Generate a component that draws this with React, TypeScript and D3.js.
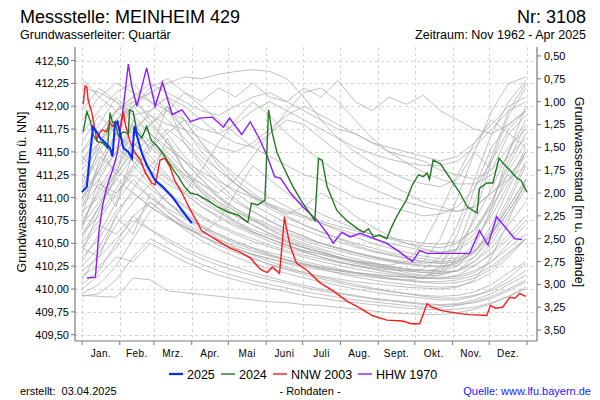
import React from 'react';
import * as d3 from 'd3';

const MONTHS = ['Jan.', 'Feb.', 'Mrz.', 'Apr.', 'Mai', 'Juni', 'Juli', 'Aug.', 'Sept.', 'Okt.', 'Nov.', 'Dez.'];
const MONTH_STARTS = [0, 31, 59, 90, 120, 151, 181, 212, 243, 273, 304, 334, 365];
const LEFT_TICKS = [409.5, 409.75, 410, 410.25, 410.5, 410.75, 411, 411.25, 411.5, 411.75, 412, 412.25, 412.5];
const RIGHT_TICKS = [0.5, 0.75, 1, 1.25, 1.5, 1.75, 2, 2.25, 2.5, 2.75, 3, 3.25, 3.5];
const GROUND = 413.05;

const GRAY_DAYS = [0, 14, 28, 42, 56, 70, 84, 98, 112, 126, 140, 154, 168, 182, 196, 210, 224, 238, 252, 266, 280, 294, 308, 322, 336, 350, 364];

const GRAY_SERIES: number[][] = [
  [412.30, 412.10, 411.95, 412.05, 412.15, 412.25, 412.32, 412.30, 412.35, 412.38, 412.40, 412.38, 412.30, 412.10, 411.85, 411.65, 411.50, 411.38, 411.28, 411.20, 411.15, 411.12, 411.20, 411.50, 411.95, 412.25, 412.32],
  [411.50, 411.70, 411.95, 412.10, 412.25, 412.15, 412.05, 411.95, 411.90, 412.00, 412.10, 412.15, 412.05, 411.95, 411.85, 411.75, 411.70, 411.60, 411.55, 411.50, 411.45, 411.40, 411.45, 411.60, 411.80, 412.00, 412.10],
  [412.20, 412.15, 412.05, 411.90, 411.95, 412.10, 412.00, 411.85, 411.70, 411.60, 411.55, 411.70, 411.85, 411.80, 411.65, 411.50, 411.35, 411.25, 411.15, 411.05, 410.95, 410.90, 410.85, 410.90, 411.05, 411.20, 411.35],
  [411.30, 411.55, 411.85, 412.05, 411.90, 411.80, 411.75, 411.65, 411.55, 411.50, 411.60, 411.75, 411.90, 412.00, 411.90, 411.80, 411.70, 411.60, 411.50, 411.45, 411.40, 411.30, 411.25, 411.20, 411.30, 411.55, 411.75],
  [410.90, 411.30, 411.70, 412.00, 412.20, 412.30, 412.15, 412.00, 411.85, 411.70, 411.55, 411.45, 411.35, 411.25, 411.20, 411.10, 411.00, 410.95, 410.90, 410.85, 410.80, 410.82, 410.90, 411.10, 411.40, 411.75, 411.95],
  [411.20, 411.60, 411.95, 412.10, 411.85, 411.60, 411.40, 411.20, 411.00, 410.85, 410.75, 410.65, 410.55, 410.48, 410.42, 410.35, 410.30, 410.25, 410.22, 410.18, 410.15, 410.15, 410.20, 410.35, 410.60, 410.90, 411.20],
  [410.80, 411.40, 411.70, 411.55, 411.80, 411.60, 411.30, 411.10, 410.95, 410.80, 410.70, 410.60, 410.52, 410.45, 410.40, 410.35, 410.30, 410.28, 410.25, 410.22, 410.20, 410.22, 410.30, 410.50, 410.85, 411.30, 411.60],
  [411.50, 411.80, 412.10, 411.90, 411.70, 411.50, 411.30, 411.15, 411.00, 410.88, 410.78, 410.70, 410.62, 410.55, 410.50, 410.45, 410.40, 410.35, 410.32, 410.30, 410.28, 410.30, 410.45, 410.75, 411.10, 411.50, 411.85],
  [410.60, 410.90, 411.30, 411.60, 411.45, 411.25, 411.05, 410.90, 410.80, 410.70, 410.62, 410.55, 410.48, 410.42, 410.38, 410.33, 410.28, 410.25, 410.22, 410.20, 410.18, 410.17, 410.20, 410.30, 410.45, 410.70, 410.95],
  [411.00, 411.20, 411.50, 411.75, 411.90, 411.70, 411.45, 411.25, 411.10, 410.95, 410.85, 410.75, 410.65, 410.58, 410.50, 410.45, 410.40, 410.36, 410.32, 410.28, 410.26, 410.25, 410.28, 410.40, 410.65, 411.00, 411.40],
  [410.40, 410.85, 411.25, 411.50, 411.35, 411.20, 411.05, 410.90, 410.78, 410.68, 410.60, 410.52, 410.45, 410.40, 410.35, 410.30, 410.25, 410.22, 410.18, 410.15, 410.12, 410.12, 410.15, 410.25, 410.40, 410.60, 410.80],
  [411.60, 411.90, 411.70, 411.50, 411.65, 411.45, 411.20, 411.00, 410.85, 410.72, 410.62, 410.55, 410.48, 410.42, 410.38, 410.34, 410.30, 410.27, 410.24, 410.22, 410.20, 410.20, 410.25, 410.45, 410.90, 411.50, 412.00],
  [410.95, 411.35, 411.65, 411.45, 411.25, 411.05, 410.90, 410.78, 410.68, 410.60, 410.52, 410.46, 410.40, 410.35, 410.30, 410.26, 410.22, 410.19, 410.16, 410.14, 410.12, 410.11, 410.12, 410.18, 410.30, 410.50, 410.70],
  [411.25, 411.10, 411.40, 411.70, 411.95, 412.10, 411.85, 411.60, 411.40, 411.20, 411.05, 410.92, 410.80, 410.70, 410.62, 410.55, 410.48, 410.42, 410.38, 410.34, 410.30, 410.28, 410.30, 410.40, 410.60, 410.95, 411.35],
  [410.70, 411.10, 411.00, 411.35, 411.60, 411.45, 411.25, 411.08, 410.95, 410.85, 410.76, 410.68, 410.60, 410.53, 410.47, 410.42, 410.37, 410.33, 410.30, 410.27, 410.25, 410.24, 410.26, 410.35, 410.55, 410.85, 411.15],
  [411.40, 411.70, 411.95, 411.75, 411.55, 411.70, 411.85, 411.60, 411.35, 411.15, 411.00, 410.88, 410.78, 410.70, 410.63, 410.56, 410.50, 410.45, 410.40, 410.36, 410.33, 410.30, 410.32, 410.42, 410.62, 410.90, 411.20],
  [410.50, 410.75, 411.05, 411.30, 411.55, 411.75, 411.60, 411.40, 411.20, 411.05, 410.92, 410.82, 410.72, 410.65, 410.58, 410.52, 410.46, 410.41, 410.37, 410.33, 410.30, 410.28, 410.30, 410.40, 410.70, 411.10, 411.50],
  [411.10, 411.45, 411.30, 411.15, 411.00, 410.88, 410.78, 410.68, 410.60, 410.52, 410.45, 410.40, 410.35, 410.30, 410.26, 410.22, 410.18, 410.15, 410.12, 410.10, 410.08, 410.08, 410.10, 410.15, 410.25, 410.40, 410.55],
  [410.85, 411.00, 411.25, 411.55, 411.80, 412.00, 411.75, 411.50, 411.30, 411.15, 411.02, 410.90, 410.82, 410.90, 411.05, 410.95, 410.80, 410.68, 410.58, 410.50, 410.44, 410.40, 410.42, 410.55, 410.80, 411.15, 411.55],
  [411.70, 411.95, 412.15, 412.25, 412.05, 411.85, 411.65, 411.45, 411.30, 411.15, 411.02, 410.92, 410.84, 410.78, 410.72, 410.66, 410.60, 410.55, 410.50, 410.46, 410.42, 410.40, 410.44, 410.60, 410.95, 411.40, 411.80],
  [410.30, 410.60, 410.95, 411.20, 411.00, 410.85, 410.72, 410.62, 410.54, 410.47, 410.41, 410.36, 410.31, 410.27, 410.23, 410.20, 410.17, 410.14, 410.11, 410.09, 410.07, 410.06, 410.07, 410.12, 410.22, 410.38, 410.55],
  [410.20, 410.35, 410.55, 410.75, 410.65, 410.55, 410.45, 410.37, 410.30, 410.24, 410.18, 410.13, 410.08, 410.04, 410.00, 409.96, 409.93, 409.90, 409.88, 409.86, 409.84, 409.83, 409.84, 409.88, 409.95, 410.05, 410.15],
  [409.92, 409.95, 410.10, 410.35, 410.55, 410.45, 410.35, 410.27, 410.20, 410.14, 410.09, 410.05, 410.01, 409.97, 409.94, 409.91, 409.88, 409.86, 409.84, 409.82, 409.80, 409.80, 409.82, 409.86, 409.92, 410.00, 410.10],
  [410.10, 410.40, 410.70, 410.95, 411.15, 410.95, 410.78, 410.64, 410.52, 410.42, 410.34, 410.27, 410.21, 410.16, 410.11, 410.07, 410.03, 410.00, 409.97, 409.95, 409.93, 409.92, 409.93, 409.97, 410.05, 410.18, 410.30],
  [409.95, 410.05, 410.25, 410.55, 410.85, 411.05, 410.85, 410.68, 410.55, 410.45, 410.37, 410.30, 410.24, 410.18, 410.13, 410.09, 410.05, 410.01, 409.98, 409.95, 409.92, 409.90, 409.90, 409.93, 409.98, 410.08, 410.20],
  [410.45, 410.70, 410.60, 410.80, 410.95, 410.80, 410.65, 410.53, 410.43, 410.35, 410.28, 410.22, 410.17, 410.12, 410.08, 410.04, 410.00, 409.97, 409.94, 409.92, 409.90, 409.88, 409.88, 409.92, 410.00, 410.12, 410.28],
  [410.05, 410.20, 410.50, 410.80, 410.65, 410.52, 410.42, 410.33, 410.26, 410.20, 410.15, 410.10, 410.06, 410.02, 409.98, 409.95, 409.92, 409.89, 409.87, 409.85, 409.83, 409.82, 409.83, 409.85, 409.90, 409.98, 410.08],
  [410.60, 410.80, 411.10, 411.35, 411.15, 410.95, 410.80, 410.68, 410.58, 410.50, 410.43, 410.37, 410.32, 410.28, 410.24, 410.21, 410.18, 410.16, 410.14, 410.13, 410.12, 410.15, 410.35, 410.80, 411.40, 411.90, 412.20],
  [410.35, 410.55, 410.85, 411.05, 410.90, 410.78, 410.67, 410.58, 410.50, 410.44, 410.38, 410.33, 410.28, 410.24, 410.21, 410.18, 410.15, 410.13, 410.11, 410.10, 410.12, 410.25, 410.60, 411.10, 411.55, 411.80, 411.95],
  [411.00, 411.30, 411.55, 411.40, 411.20, 411.05, 410.92, 410.80, 410.70, 410.62, 410.55, 410.48, 410.42, 410.37, 410.33, 410.29, 410.26, 410.23, 410.21, 410.20, 410.22, 410.35, 410.70, 411.20, 411.70, 412.05, 412.28],
  [410.75, 411.05, 411.35, 411.60, 411.40, 411.22, 411.08, 410.95, 410.84, 410.74, 410.65, 410.58, 410.51, 410.45, 410.40, 410.35, 410.31, 410.28, 410.26, 410.30, 410.50, 410.85, 411.25, 411.60, 411.85, 411.70, 411.55],
  [410.70, 410.95, 411.20, 411.45, 411.30, 411.15, 411.05, 411.30, 411.60, 411.85, 412.05, 411.90, 411.70, 411.55, 411.40, 411.28, 411.18, 411.10, 411.02, 410.95, 410.90, 410.86, 410.85, 410.90, 411.05, 411.25, 411.45],
  [411.35, 411.60, 411.85, 411.70, 411.55, 411.40, 411.25, 411.15, 411.05, 411.20, 411.45, 411.70, 411.95, 412.15, 412.20, 412.05, 411.85, 411.65, 411.50, 411.38, 411.28, 411.20, 411.15, 411.15, 411.25, 411.45, 411.65],
  [410.55, 410.90, 411.20, 411.05, 410.90, 410.78, 410.68, 410.60, 410.75, 411.05, 411.35, 411.20, 411.05, 410.92, 410.82, 410.74, 410.66, 410.60, 410.55, 410.50, 410.47, 410.45, 410.50, 410.65, 410.90, 411.20, 411.50],
  [411.85, 412.10, 412.25, 412.15, 412.05, 411.95, 411.85, 411.75, 411.70, 411.80, 411.95, 412.05, 411.95, 411.85, 411.75, 411.65, 411.55, 411.48, 411.42, 411.38, 411.35, 411.35, 411.40, 411.55, 411.75, 411.95, 412.05],
  [410.15, 410.25, 410.45, 410.70, 410.95, 410.80, 410.68, 410.58, 410.50, 410.44, 410.38, 410.33, 410.29, 410.26, 410.23, 410.20, 410.18, 410.16, 410.14, 410.13, 410.12, 410.12, 410.14, 410.20, 410.30, 410.45, 410.60],
  [410.90, 411.15, 411.05, 411.25, 411.10, 410.95, 410.82, 410.70, 410.60, 410.52, 410.45, 410.38, 410.32, 410.27, 410.22, 410.17, 410.13, 410.10, 410.07, 410.05, 410.03, 410.02, 410.03, 410.08, 410.18, 410.35, 410.55],
  [411.45, 411.25, 411.50, 411.80, 411.60, 411.40, 411.22, 411.06, 410.92, 410.80, 410.70, 410.61, 410.53, 410.46, 410.40, 410.35, 410.30, 410.26, 410.23, 410.20, 410.18, 410.17, 410.20, 410.30, 410.50, 410.80, 411.10],
  [410.25, 410.45, 410.80, 411.10, 411.35, 411.55, 411.40, 411.20, 411.02, 410.88, 410.76, 410.66, 410.57, 410.50, 410.44, 410.38, 410.33, 410.29, 410.25, 410.22, 410.20, 410.19, 410.20, 410.26, 410.38, 410.55, 410.75],
  [411.95, 412.20, 412.05, 411.85, 411.70, 411.55, 411.40, 411.28, 411.18, 411.08, 411.00, 410.93, 410.86, 410.80, 410.74, 410.69, 410.64, 410.60, 410.56, 410.53, 410.50, 410.49, 410.52, 410.65, 410.95, 411.35, 411.70],
  [410.00, 410.15, 410.35, 410.30, 410.50, 410.40, 410.30, 410.22, 410.15, 410.10, 410.05, 410.01, 409.97, 409.93, 409.90, 409.87, 409.85, 409.83, 409.81, 409.79, 409.78, 409.77, 409.78, 409.80, 409.85, 409.92, 410.00],
  [411.15, 411.50, 411.80, 412.00, 412.15, 411.95, 411.75, 411.55, 411.40, 411.25, 411.12, 411.00, 410.90, 410.80, 410.72, 410.64, 410.57, 410.50, 410.45, 410.40, 410.36, 410.33, 410.34, 410.42, 410.60, 410.85, 411.15],
  [411.40, 411.60, 411.85, 412.00, 411.80, 411.95, 412.15, 412.05, 412.20, 412.10, 412.25, 412.10, 412.05, 412.20, 412.10, 412.28, 412.05, 411.95, 412.10, 412.02, 412.12, 411.95, 411.85, 411.75, 411.70, 411.80, 411.95],
  [409.93, 409.92, 409.91, 410.12, 410.10, 409.98, 409.96, 409.94, 409.92, 409.90, 409.88, 409.86, 409.85, 409.83, 409.82, 409.80, 409.78, 409.76, 409.74, 409.73, 409.72, 409.72, 409.74, 409.78, 409.84, 409.92, 410.02],
  [410.65, 411.20, 410.90, 411.50, 411.20, 411.65, 411.30, 411.05, 410.88, 410.74, 410.63, 410.55, 410.47, 410.41, 410.35, 410.30, 410.26, 410.22, 410.19, 410.16, 410.14, 410.18, 410.45, 410.95, 411.45, 411.95, 412.25],
  [411.05, 411.55, 411.25, 411.85, 411.50, 412.00, 411.60, 411.35, 411.15, 410.98, 410.85, 410.74, 410.65, 410.57, 410.50, 410.44, 410.39, 410.35, 410.31, 410.28, 410.30, 410.55, 411.00, 411.50, 411.30, 411.70, 411.90],
  [410.45, 410.35, 410.80, 410.60, 411.05, 410.85, 410.70, 410.58, 410.48, 410.40, 410.33, 410.27, 410.22, 410.18, 410.14, 410.11, 410.08, 410.06, 410.04, 410.02, 410.01, 410.00, 410.02, 410.10, 410.35, 410.75, 411.20],
];

const S2025: [number, number][] = [[0, 411.06], [4, 411.12], [6, 411.40], [9, 411.77], [12, 411.72], [15, 411.65], [19, 411.60], [23, 411.54], [25, 411.45], [27, 411.80], [29, 411.83], [31, 411.72], [34, 411.54], [38, 411.50], [41, 411.43], [43, 411.78], [46, 411.63], [49, 411.49], [53, 411.36], [60, 411.19], [66, 411.12], [74, 411.01], [82, 410.86], [90, 410.72]];

const S2024: [number, number][] = [[1, 411.72], [4, 411.94], [7, 411.83], [9, 411.69], [13, 411.61], [17, 411.60], [21, 411.54], [23, 411.93], [25, 411.82], [27, 411.83], [30, 411.67], [34, 411.72], [38, 411.70], [39, 411.96], [42, 411.94], [45, 411.72], [49, 411.65], [53, 411.78], [57, 411.62], [62, 411.56], [68, 411.45], [74, 411.32], [79, 411.23], [84, 411.12], [89, 411.05], [95, 411.03], [103, 410.97], [111, 410.90], [120, 410.84], [128, 410.81], [136, 410.73], [139, 410.94], [144, 410.92], [150, 410.97], [153, 411.96], [156, 411.71], [160, 411.49], [165, 411.34], [173, 411.12], [181, 410.94], [189, 410.79], [191, 410.75], [194, 411.43], [197, 411.41], [201, 411.12], [209, 410.86], [217, 410.75], [226, 410.66], [231, 410.62], [235, 410.66], [239, 410.57], [244, 410.59], [250, 410.55], [254, 410.68], [258, 410.79], [261, 410.86], [266, 410.97], [271, 411.14], [276, 411.25], [280, 411.23], [283, 411.27], [285, 411.20], [288, 411.41], [294, 411.37], [302, 411.21], [310, 411.05], [316, 410.90], [324, 410.83], [326, 411.10], [332, 411.16], [337, 411.16], [342, 411.43], [345, 411.38], [351, 411.30], [357, 411.21], [360, 411.19], [365, 411.06]];

const NNW2003: [number, number][] = [[1, 412.02], [2.5, 412.22], [4, 412.21], [5, 412.07], [8, 411.93], [11, 411.72], [12, 411.63], [15, 411.72], [17, 411.74], [20, 411.72], [23, 411.82], [25, 411.78], [29, 411.83], [31, 411.74], [34, 411.94], [35, 411.83], [39, 411.63], [43, 411.50], [48, 411.41], [52, 411.27], [57, 411.16], [60, 411.14], [62, 411.27], [64, 411.41], [68, 411.43], [72, 411.34], [76, 411.19], [82, 411.05], [89, 410.86], [95, 410.72], [98, 410.64], [110, 410.54], [121, 410.45], [130, 410.40], [138, 410.34], [146, 410.22], [150, 410.19], [152, 410.18], [156, 410.24], [158, 410.22], [162, 410.17], [164, 410.46], [166, 410.79], [168, 410.64], [171, 410.46], [176, 410.28], [185, 410.20], [195, 410.07], [206, 409.98], [217, 409.87], [228, 409.79], [238, 409.71], [250, 409.66], [263, 409.65], [270, 409.62], [277, 409.62], [280, 409.73], [283, 409.84], [287, 409.80], [296, 409.76], [310, 409.73], [318, 409.72], [332, 409.71], [335, 409.82], [339, 409.79], [345, 409.80], [351, 409.91], [355, 409.90], [359, 409.95], [364, 409.92]];

const HHW1970: [number, number][] = [[4, 410.12], [11, 410.13], [14, 410.64], [17, 410.92], [20, 411.10], [25, 411.30], [29, 411.49], [34, 412.00], [38, 412.46], [41, 412.21], [45, 412.00], [53, 412.42], [60, 412.00], [66, 412.26], [74, 411.91], [82, 411.96], [89, 411.83], [97, 411.87], [107, 411.88], [116, 411.77], [121, 411.87], [131, 411.69], [138, 411.83], [146, 411.63], [152, 411.45], [158, 411.23], [163, 411.21], [171, 411.05], [181, 410.90], [193, 410.75], [201, 410.61], [206, 410.50], [213, 410.62], [220, 410.57], [228, 410.61], [236, 410.57], [250, 410.50], [261, 410.40], [271, 410.30], [277, 410.42], [283, 410.39], [318, 410.39], [326, 410.64], [333, 410.48], [340, 410.79], [355, 410.55], [361, 410.54]];

const LEGEND = [
  { label: '2025', color: '#0a2bff' },
  { label: '2024', color: '#1f7a1f' },
  { label: 'NNW 2003', color: '#ff1a1a' },
  { label: 'HHW 1970', color: '#8c1aff' },
];

const W = 600;
const H = 400;
const PLOT = { left: 75, right: 537, top: 47, bottom: 341 };
const FONT = '"Liberation Sans", Arial, sans-serif';

const fmt = (v: number) => v.toFixed(2).replace('.', ',');

export default function App() {
  const x = d3.scaleLinear().domain([0, 365]).range([82, 527]);
  const y = d3.scaleLinear().domain([409.5, 412.5]).range([334.7, 60.5]);
  const line = d3.line<[number, number]>().x((d) => x(d[0])).y((d) => y(d[1]));

  const grayPaths = GRAY_SERIES.map((vals) => line(vals.map((v, i) => [GRAY_DAYS[i], v] as [number, number])) || '');

  const legendXs = [169, 221, 273, 358];
  const legendItems = LEGEND.map((l, i) => ({ ...l, x: legendXs[i] }));

  return (
    <svg width={W} height={H} style={{ position: 'absolute', left: 0, top: 0, background: '#fff' }} fontFamily={FONT}>
      <rect x={0} y={0} width={W} height={H} fill="#fff" />
      <defs>
        <clipPath id="plotclip">
          <rect x={PLOT.left} y={PLOT.top} width={PLOT.right - PLOT.left} height={PLOT.bottom - PLOT.top} />
        </clipPath>
      </defs>

      <text x={20} y={23} fontSize={18} fill="#000">Messstelle: MEINHEIM 429</text>
      <text x={586} y={23} fontSize={18} fill="#000" textAnchor="end">Nr: 3108</text>
      <text x={20} y={39} fontSize={12.5} fill="#000">Grundwasserleiter: Quartär</text>
      <text x={586} y={39} fontSize={12.5} fill="#000" textAnchor="end">Zeitraum: Nov 1962 - Apr 2025</text>

      <g stroke="#d4d4d4" strokeDasharray="3,3" strokeWidth={1}>
        {LEFT_TICKS.map((t) => (
          <line key={'h' + t} x1={PLOT.left} x2={PLOT.right} y1={Math.round(y(t)) + 0.5} y2={Math.round(y(t)) + 0.5} />
        ))}
        {MONTH_STARTS.map((d) => (
          <line key={'v' + d} x1={Math.round(x(d)) + 0.5} x2={Math.round(x(d)) + 0.5} y1={PLOT.top} y2={PLOT.bottom} />
        ))}
      </g>

      <g clipPath="url(#plotclip)" fill="none">
        {grayPaths.map((p, i) => (
          <path key={i} d={p} stroke="#a9a9a9" strokeWidth={0.9} strokeOpacity={0.8} />
        ))}
        <path d={line(HHW1970) || ''} stroke={LEGEND[3].color} strokeWidth={1.4} />
        <path d={line(NNW2003) || ''} stroke={LEGEND[2].color} strokeWidth={1.4} />
        <path d={line(S2024) || ''} stroke={LEGEND[1].color} strokeWidth={1.4} />
        <path d={line(S2025) || ''} stroke={LEGEND[0].color} strokeWidth={2.1} />
      </g>

      <g stroke="#7a7a7a" strokeWidth={1.2}>
        <line x1={PLOT.left} x2={PLOT.left} y1={PLOT.top} y2={PLOT.bottom} />
        <line x1={PLOT.right} x2={PLOT.right} y1={PLOT.top} y2={PLOT.bottom} />
        <line x1={PLOT.left} x2={PLOT.right} y1={PLOT.bottom} y2={PLOT.bottom} />
      </g>

      <g fontSize={11} fill="#000">
        {LEFT_TICKS.map((t) => (
          <g key={'lt' + t}>
            <line x1={PLOT.left - 4} x2={PLOT.left} y1={y(t)} y2={y(t)} stroke="#7a7a7a" />
            <text x={PLOT.left - 6} y={y(t) + 4} textAnchor="end">{fmt(t)}</text>
          </g>
        ))}
      </g>

      <g fontSize={11} fill="#000">
        {RIGHT_TICKS.map((t) => (
          <g key={'rt' + t}>
            <line x1={PLOT.right} x2={PLOT.right + 4} y1={y(GROUND - t)} y2={y(GROUND - t)} stroke="#7a7a7a" />
            <text x={PLOT.right + 7} y={y(GROUND - t) + 4}>{fmt(t)}</text>
          </g>
        ))}
      </g>

      <g>
        {MONTH_STARTS.map((d) => (
          <line key={'bt' + d} x1={x(d)} x2={x(d)} y1={PLOT.bottom} y2={PLOT.bottom + 4} stroke="#7a7a7a" />
        ))}
        {MONTHS.map((m, i) => (
          <text key={m} x={x((MONTH_STARTS[i] + MONTH_STARTS[i + 1]) / 2)} y={357} fontSize={10} textAnchor="middle" letterSpacing={0.4} fill="#000">{m}</text>
        ))}
      </g>

      <text transform="translate(26,192) rotate(-90)" fontSize={12.5} textAnchor="middle" fill="#000">Grundwasserstand [m ü. NN]</text>
      <text transform="translate(575,192) rotate(90)" fontSize={12.5} textAnchor="middle" fill="#000">Grundwasserstand [m u. Gelände]</text>

      <g fontSize={12.5}>
        {legendItems.map((l) => (
          <g key={l.label}>
            <line x1={l.x} x2={l.x + 14} y1={374} y2={374} stroke={l.color} strokeWidth={l.label === '2025' ? 2.2 : 1.4} />
            <text x={l.x + 18} y={378.5} fill="#000">{l.label}</text>
          </g>
        ))}
      </g>

      <text x={20} y={395} fontSize={11} fill="#000" style={{ whiteSpace: 'pre' }}>{'erstellt:  03.04.2025'}</text>
      <text x={310} y={395} fontSize={11} fill="#000" textAnchor="middle">- Rohdaten -</text>
      <text x={591} y={395} fontSize={11} fill="#1a1aff" textAnchor="end">Quelle: www.lfu.bayern.de</text>
    </svg>
  );
}
